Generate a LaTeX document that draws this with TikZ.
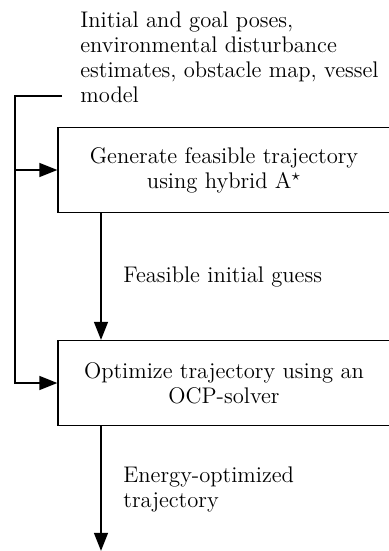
\documentclass[tikz,border=0pt]{standalone}
\usetikzlibrary{arrows.meta}
\begin{document}
\begin{tikzpicture}[x=1pt,y=1pt,
  every node/.style={font=\fontsize{11.3}{12.6}\selectfont},
  conn/.style={line width=0.7pt},
  arr/.style={conn,-{Triangle[length=9pt,width=7pt]}},
  procbox/.style={draw,line width=0.7pt,minimum width=166pt,minimum height=42.5pt,align=center,inner sep=0pt},
  lbl/.style={align=left,inner sep=0pt}]
\useasboundingbox (0,0) rectangle (194,-275.5);
\node[lbl,anchor=north west] (inp) at (40,-5.6) {Initial and goal poses,\\environmental disturbance\\estimates, obstacle map, vessel\\model};
\node[procbox] (b1) at (112,-85) {Generate feasible trajectory\\using hybrid A$^\star$};
\node[procbox] (b2) at (112,-191.5) {Optimize trajectory using an\\OCP-solver};
\coordinate (tr) at (31,-48);
\coordinate (tl) at (7.5,-48);
\coordinate (j1) at (tl |- b1.west);
\coordinate (out) at (50.5,-275.4);
\draw[arr] (tr) -- (tl) |- (b2.west);
\draw[arr] (j1) -- (b1.west);
\draw[arr] (b1.south -| out) -- (b2.north -| out);
\draw[arr] (b2.south -| out) -- (out);
\node[lbl,anchor=west] (l1) at (61.5,-138.6) {Feasible initial guess};
\node[lbl,anchor=north west] (l2) at (61.5,-233) {Energy-optimized\\trajectory};
\end{tikzpicture}
\end{document}
